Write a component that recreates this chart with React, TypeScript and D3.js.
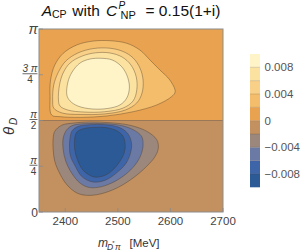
import React from "react";
import * as d3 from "d3";

// ---------- data ----------
const xDomain: [number, number] = [2350, 2700];
const xTicks = [2400, 2500, 2600, 2700];
// theta in units of pi
const yTicks = [
  { v: 0, num: "0", den: "" },
  { v: 0.25, num: "π", den: "4" },
  { v: 0.5, num: "π", den: "2" },
  { v: 0.75, num: "3 π", den: "4" },
  { v: 1, num: "π", den: "" },
];
const bandEdges = [-0.01, -0.008, -0.006, -0.004, -0.002, 0, 0.002, 0.004, 0.006, 0.008, 0.01];
const bandColors = [
  "#2b5a96", "#3f65a9", "#6b79a5", "#9b877b", "#c3905f",
  "#e9a24f", "#f4bd6c", "#f9d088", "#fce2a0", "#fef4c8",
];
const cbTicks = [0.008, 0.004, 0, -0.004, -0.008];

// contour rings: [m (MeV), theta/pi]
const ringP002 = [[2374,0.530],[2371,0.630],[2372,0.721],[2380,0.803],[2396,0.867],[2422,0.913],[2453,0.934],[2485,0.936],[2517,0.922],[2542,0.885],[2561,0.831],[2580,0.776],[2599,0.721],[2609,0.657],[2602,0.630],[2574,0.585],[2529,0.548],[2479,0.525],[2428,0.517],[2390,0.521]];
const ringP004 = [[2376,0.612],[2378,0.694],[2387,0.765],[2401,0.825],[2424,0.869],[2453,0.893],[2485,0.895],[2510,0.877],[2529,0.842],[2542,0.787],[2548,0.721],[2546,0.650],[2536,0.596],[2514,0.557],[2475,0.536],[2428,0.533],[2394,0.541],[2378,0.568]];
const ringP006 = [[2387,0.612],[2389,0.694],[2396,0.760],[2409,0.814],[2432,0.852],[2458,0.870],[2485,0.869],[2508,0.847],[2525,0.803],[2535,0.738],[2536,0.667],[2529,0.607],[2510,0.568],[2475,0.548],[2437,0.546],[2405,0.557],[2390,0.579]];
const ringP008 = [[2403,0.639],[2405,0.710],[2413,0.765],[2428,0.814],[2447,0.836],[2468,0.840],[2489,0.831],[2506,0.798],[2517,0.749],[2522,0.683],[2517,0.623],[2504,0.585],[2481,0.566],[2451,0.563],[2424,0.579],[2409,0.607]];
const ringN002 = [[2377,0.404],[2380,0.441],[2393,0.474],[2415,0.486],[2447,0.492],[2485,0.488],[2523,0.474],[2555,0.441],[2574,0.395],[2577,0.350],[2571,0.304],[2555,0.250],[2529,0.186],[2498,0.131],[2466,0.098],[2441,0.091],[2422,0.104],[2403,0.149],[2389,0.213],[2380,0.277],[2377,0.340]];
const ringN004 = [[2396,0.404],[2403,0.450],[2415,0.474],[2441,0.483],[2472,0.483],[2504,0.474],[2529,0.450],[2545,0.414],[2548,0.368],[2544,0.313],[2533,0.258],[2514,0.204],[2488,0.158],[2463,0.135],[2444,0.135],[2428,0.158],[2412,0.213],[2401,0.277],[2396,0.340]];
const ringN006 = [[2409,0.404],[2413,0.444],[2425,0.468],[2447,0.477],[2476,0.477],[2501,0.464],[2518,0.432],[2526,0.377],[2524,0.322],[2516,0.268],[2501,0.222],[2482,0.182],[2463,0.164],[2447,0.168],[2431,0.195],[2419,0.250],[2410,0.304],[2408,0.354]];
const ringN008 = [[2418,0.404],[2422,0.437],[2434,0.455],[2457,0.463],[2479,0.461],[2498,0.444],[2510,0.414],[2514,0.368],[2512,0.322],[2504,0.277],[2491,0.231],[2476,0.201],[2458,0.190],[2446,0.201],[2433,0.231],[2423,0.286],[2418,0.340]];

const contourRings = [
  { level: 0.002, pts: ringP002 },
  { level: 0.004, pts: ringP004 },
  { level: 0.006, pts: ringP006 },
  { level: 0.008, pts: ringP008 },
  { level: -0.002, pts: ringN002 },
  { level: -0.004, pts: ringN004 },
  { level: -0.006, pts: ringN006 },
  { level: -0.008, pts: ringN008 },
];

// ---------- layout ----------
const W = 306, H = 252;
const PL = 39, PR = 223, PT = 29, PB = 212;
const CBX = 250, CBW = 10, CBT = 54, CBB = 187.3;
const FONT = "'Liberation Sans', Arial, Helvetica, sans-serif";
const TICKCOL = "#444";

function bandColorFor(level: number): string {
  const lo = level > 0 ? level : level - 0.002;
  let idx = 0;
  for (let i = 0; i < bandEdges.length - 1; i++) {
    if (Math.abs(bandEdges[i] - lo) < 1e-9) idx = i;
  }
  return bandColors[idx];
}

export default function App() {
  const x = d3.scaleLinear().domain(xDomain).range([PL, PR]);
  const y = d3.scaleLinear().domain([0, 1]).range([PB, PT]);
  const cb = d3.scaleLinear().domain([-0.01, 0.01]).range([CBB, CBT]);
  const line = d3
    .line<number[]>()
    .x((d) => x(d[0]))
    .y((d) => y(d[1]))
    .curve(d3.curveCatmullRomClosed.alpha(0.5));
  const fmt = (v: number) => (v < 0 ? "−" : "") + (v === 0 ? "0" : d3.format(".3f")(Math.abs(v)));
  const strokeC = "rgba(70,52,35,0.5)";

  return (
    <svg width={W} height={H} style={{ position: "absolute", left: 0, top: 0 }} fontFamily={FONT}>
      <defs>
        <clipPath id="plotclip">
          <rect x={PL} y={PT} width={PR - PL} height={PB - PT} />
        </clipPath>
      </defs>
      <rect x={0} y={0} width={W} height={H} fill="#fff" />
      <g clipPath="url(#plotclip)">
        <rect x={PL} y={y(1)} width={PR - PL} height={y(0.5) - y(1)} fill={bandColors[5]} />
        <rect x={PL} y={y(0.5)} width={PR - PL} height={y(0) - y(0.5)} fill={bandColors[4]} />
        {contourRings.map((r, i) => (
          <path key={i} d={line(r.pts) || ""} fill={bandColorFor(r.level)} stroke={strokeC} strokeWidth={0.75} />
        ))}
        <line x1={PL} x2={PR} y1={y(0.5)} y2={y(0.5)} stroke={strokeC} strokeWidth={0.9} />
      </g>
      <rect x={PL} y={PT} width={PR - PL} height={PB - PT} fill="none" stroke="#8c8c8c" strokeWidth={1} />
      {xTicks.map((t) => (
        <g key={t}>
          <line x1={x(t)} x2={x(t)} y1={PB} y2={PB - 4} stroke="#8c8c8c" strokeWidth={0.8} />
          <text x={x(t)} y={225} textAnchor="middle" fontSize={11.5} fill={TICKCOL}>{t}</text>
        </g>
      ))}
      {yTicks.map((t) => {
        const yy = y(t.v);
        const tick = <line x1={PL} x2={PL + 4} y1={yy} y2={yy} stroke="#8c8c8c" strokeWidth={0.8} />;
        if (!t.den) {
          const isPi = t.num === "π";
          return (
            <g key={t.v}>
              {tick}
              <text x={38} y={isPi ? 33.5 : 216.7} textAnchor="end" fontSize={isPi ? 14 : 12} fill={TICKCOL} fontStyle={isPi ? "italic" : "normal"}>{t.num}</text>
            </g>
          );
        }
        const bw = t.num.length > 1 ? 15 : 8;
        const cx = 37.5 - bw / 2;
        return (
          <g key={t.v}>
            {tick}
            <text x={cx} y={yy - 2.5} textAnchor="middle" fontSize={10} fill={TICKCOL} fontStyle="italic">{t.num}</text>
            <line x1={cx - bw / 2} x2={cx + bw / 2} y1={yy - 1} y2={yy - 1} stroke={TICKCOL} strokeWidth={0.8} />
            <text x={cx} y={yy + 8.5} textAnchor="middle" fontSize={10} fill={TICKCOL}>{t.den}</text>
          </g>
        );
      })}
      {/* title */}
      <g fill="#111">
        <text x={41.7} y={16} fontSize={15.5} fontStyle="italic">A</text>
        <text x={52} y={17.5} fontSize={10.5}>CP</text>
        <text x={72.3} y={16} fontSize={15.5}>with</text>
        <text x={106} y={16} fontSize={15.5} fontStyle="italic">C</text>
        <text x={118.5} y={8.6} fontSize={10} fontStyle="italic">P</text>
        <text x={120.5} y={19.3} fontSize={11}>NP</text>
        <text x={145.5} y={16} fontSize={15.5}>= 0.15(1+i)</text>
      </g>
      {/* y label */}
      <g transform="translate(14,126) rotate(-90)" fill="#333">
        <text x={-5} y={0} fontSize={15} fontStyle="italic" textAnchor="middle">θ</text>
        <text x={1} y={3} fontSize={10} fontStyle="italic">D</text>
      </g>
      {/* x label */}
      <g fill="#333">
        <text x={98} y={247.3} fontSize={12} fontStyle="italic">m</text>
        <text x={107} y={250} fontSize={8.5} fontStyle="italic">D</text>
        <text x={112.3} y={245} fontSize={6}>*</text>
        <text x={115} y={250} fontSize={8.5} fontStyle="italic">π</text>
        <text x={129.5} y={247} fontSize={11.5}>[MeV]</text>
      </g>
      {/* colorbar */}
      {bandColors.map((c, i) => (
        <rect key={i} x={CBX} y={cb(bandEdges[i + 1])} width={CBW} height={cb(bandEdges[i]) - cb(bandEdges[i + 1])} fill={c} />
      ))}
      {bandEdges.slice(1, -1).map((e, i) => (
        <line key={i} x1={CBX} x2={CBX + CBW} y1={cb(e)} y2={cb(e)} stroke="rgba(90,70,50,0.35)" strokeWidth={0.6} />
      ))}
      {cbTicks.map((t) => (
        <text key={t} x={264.5} y={cb(t) + 4} fontSize={11.5} fill="#555">{fmt(t)}</text>
      ))}
    </svg>
  );
}
